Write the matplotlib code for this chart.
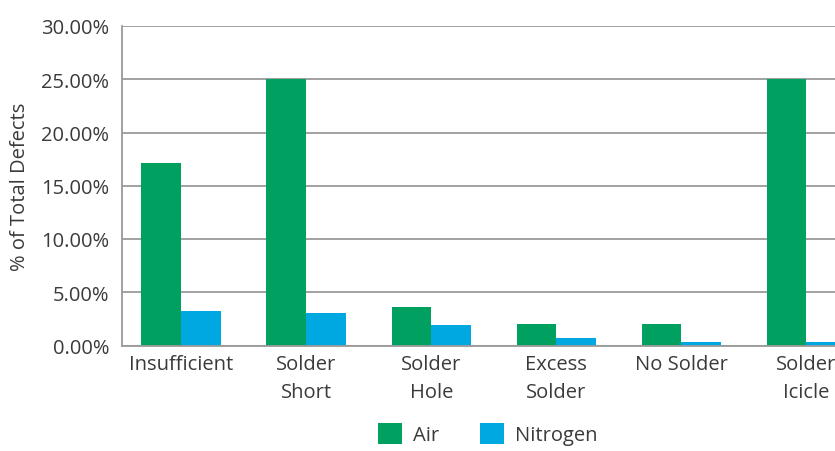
import matplotlib
matplotlib.use("Agg")
import matplotlib.pyplot as plt
import numpy as np
from matplotlib.patches import Patch

categories = ["Insufficient", "Solder\nShort", "Solder\nHole", "Excess\nSolder", "No Solder", "Solder\nIcicle"]
air = [17.1, 25.0, 3.6, 2.0, 2.0, 25.0]
nitrogen = [3.25, 3.05, 1.95, 0.72, 0.35, 0.35]
yticks = [0, 5, 10, 15, 20, 25, 30]

GREEN = "#00A160"
BLUE = "#00A8E2"
TEXT = "#3a3a3a"
GRID = "#9a9a9a"
FS = 14.5

plt.rcParams['font.family'] = ['Open Sans', 'DejaVu Sans']

fig = plt.figure(figsize=(8.35, 4.52), dpi=100)
ax = fig.add_axes([122.5/835, 1-346.5/452, 1-122.5/835, (346.5-27)/452])

x = np.arange(len(categories))
w = 0.318
ax.bar(x - w/2, air, width=w, color=GREEN, zorder=3)
ax.bar(x + w/2, nitrogen, width=w, color=BLUE, zorder=3)

ax.set_ylim(0, 30)
ax.set_xlim(-0.47, 5.23)
ax.set_yticks(yticks)
ax.set_yticklabels([f"{v:.2f}%" for v in yticks], fontsize=FS, color=TEXT)
ax.set_xticks(x)
ax.set_xticklabels(categories, fontsize=FS, color=TEXT, linespacing=1.55, va='top')
ax.tick_params(axis='x', length=0, pad=6)
ax.tick_params(axis='y', length=0, pad=9.5)
ax.grid(axis='y', color=GRID, linewidth=1.3, zorder=0)
for s in ['top', 'right']:
    ax.spines[s].set_visible(False)
for s in ['left', 'bottom']:
    ax.spines[s].set_color(GRID)
    ax.spines[s].set_linewidth(1.3)
    ax.spines[s].set_zorder(4)

ax.set_ylabel("% of Total Defects", fontsize=FS, color=TEXT, labelpad=8)

handles = [Patch(facecolor=GREEN, label="Air"), Patch(facecolor=BLUE, label="Nitrogen")]
fig.legend(handles=handles, loc='upper left', bbox_to_anchor=(360/835, 1-406/452), ncol=2,
           frameon=False, fontsize=FS, handlelength=1.2, handleheight=1.2,
           handletextpad=0.55, columnspacing=2.0, labelcolor=TEXT, borderpad=0.4)

fig.savefig("out.png", dpi=100)
